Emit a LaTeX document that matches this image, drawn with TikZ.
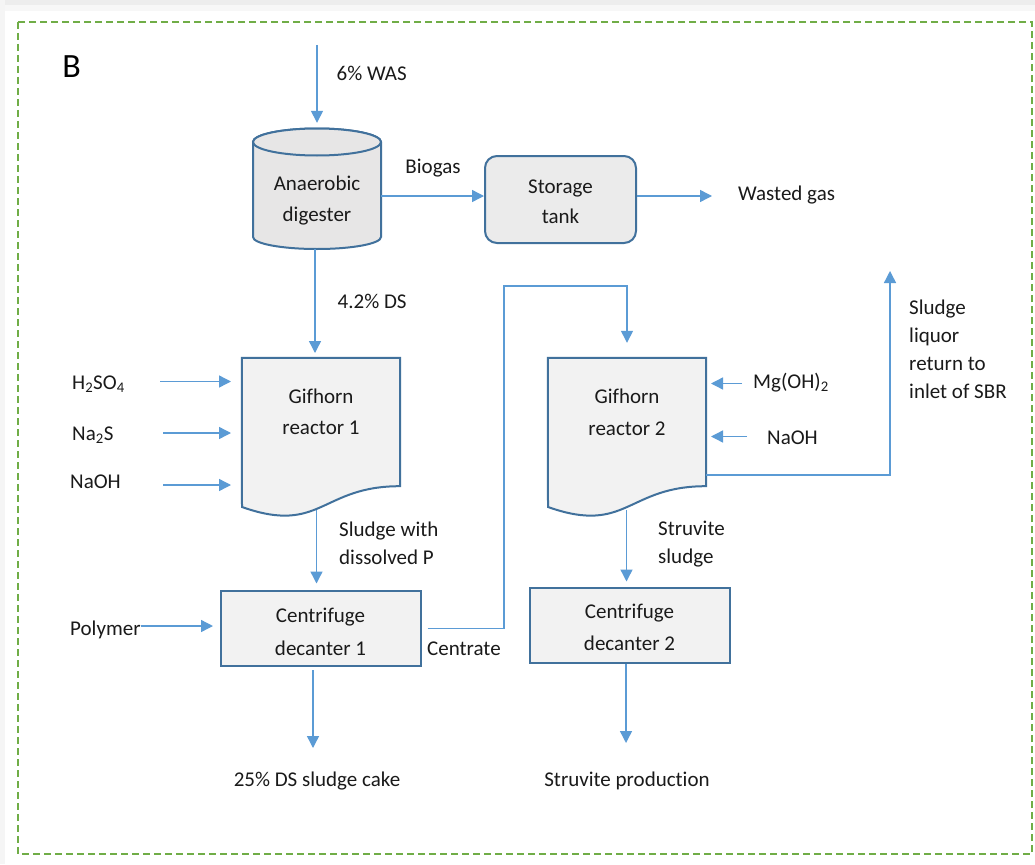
\documentclass[tikz,border=0pt]{standalone}
\usepackage{fontspec}
\setmainfont{Carlito}[Ligatures=NoCommon]
\usetikzlibrary{arrows.meta}
\definecolor{flowblue}{HTML}{5B9BD5}
\definecolor{edgeblue}{HTML}{41719C}
\definecolor{framegreen}{HTML}{70AD47}
\definecolor{ink}{HTML}{1A1A1A}
\definecolor{boxfill}{HTML}{F2F2F2}
\definecolor{tankfill}{HTML}{E7E6E6}
\begin{document}
\begin{tikzpicture}[x=1pt,y=-1pt,
  flow/.style={draw=flowblue,line width=1.4pt,-{Triangle[length=12pt,width=12pt]}},
  unit/.style={draw=edgeblue,line width=2pt,fill=boxfill},
  holder/.style={draw=none,fill=none,inner sep=0pt},
  txt/.style={text=ink,font=\fontsize{21}{26}\selectfont,inner sep=0pt,anchor=base},
  ltxt/.style={txt,anchor=base west},
]
\useasboundingbox (0,0) rectangle (1035,864);
\fill[white] (0,0) rectangle (1035,864);
% faint shadow along the top and left edges
\fill[black!7] (0,0) rectangle (1035,5);
\fill[black!3] (0,5) rectangle (1035,11);
\fill[black!4] (0,0) rectangle (5,864);

% dashed panel frame
\draw[framegreen,line width=2pt,dash pattern=on 7pt off 4pt] (18,22) rectangle (1032,854);
\node[txt,font=\fontsize{34}{38}\selectfont,text=black] (panel) at (71.5,77.5) {B};

% ---------- anaerobic digester (cylinder) ----------
\node[holder,minimum width=128pt,minimum height=120pt] (dig) at (317,189) {};
\filldraw[unit,fill=tankfill] (253,142) -- (253,237)
  arc[start angle=180,end angle=0,x radius=64,y radius=12]
  -- (381,142) arc[start angle=0,end angle=-180,x radius=64,y radius=13.5] -- cycle;
\draw[unit,fill=tankfill] (317,142) ellipse[x radius=64,y radius=13.5];
\node[txt] (dig1) at (317,190) {Anaerobic};
\node[txt] (dig2) at (317,221.5) {digester};

% ---------- storage tank ----------
\node[unit,fill=tankfill!60!boxfill,rounded corners=12pt,minimum width=151pt,minimum height=87pt] (tank) at (560.5,199.5) {};
\node[txt] (tank1) at (560.5,193) {Storage};
\node[txt] (tank2) at (560.5,223) {tank};

% ---------- Gifhorn reactors (document shapes) ----------
\node[holder,minimum width=158pt,minimum height=128pt] (r1) at (321,422) {};
\filldraw[unit] (r1.north west) -- (r1.north east) -- (r1.south east)
  .. controls (321,486) and (321,535) .. (242,507) -- cycle;
\node[txt] (r1a) at (321,403) {Gifhorn};
\node[txt] (r1b) at (321,434.5) {reactor 1};

\node[holder,minimum width=158pt,minimum height=128pt] (r2) at (627,422) {};
\filldraw[unit] (r2.north west) -- (r2.north east) -- (r2.south east)
  .. controls (627,486) and (627,535) .. (548,507) -- cycle;
\node[txt] (r2a) at (627,403) {Gifhorn};
\node[txt] (r2b) at (627,435) {reactor 2};

% ---------- centrifuge decanters ----------
\node[unit,minimum width=200pt,minimum height=75pt] (d1) at (320.5,628) {};
\node[txt] (d1a) at (320.5,622) {Centrifuge};
\node[txt] (d1b) at (320.5,655) {decanter 1};

\node[unit,minimum width=200pt,minimum height=75pt] (d2) at (629.5,625) {};
\node[txt] (d2a) at (629.5,618.5) {Centrifuge};
\node[txt] (d2b) at (629.5,650) {decanter 2};

% ---------- free ends of the flows ----------
\coordinate (wasin) at (317,45);
\coordinate (gasout) at (712,196);
\coordinate (r1out) at (316.5,510);
\coordinate (r2out) at (626.5,510);
\coordinate (cakeout) at (313,748);
\coordinate (struvout) at (626,743);
\coordinate (sbr) at (890,271);
\coordinate (ctop) at (504,286);

% ---------- main flows ----------
\draw[flow,shorten >=6pt] (wasin) -- (wasin |- dig.north);
\draw[flow] (dig.east |- gasout) -- (tank.west |- gasout);
\draw[flow] (tank.east |- gasout) -- (gasout);
\draw[flow,shorten >=5pt] (315,249) -- (315,358);
\draw[flow,shorten >=6pt] (r1out) -- (r1out |- d1.north);
\draw[flow,shorten >=5pt] (r2out) -- (r2out |- d2.north);
\draw[flow] (313,670) -- (cakeout);
\draw[flow] (626,664) -- (struvout);

% centrate to reactor 2
\draw[flow,shorten >=15pt] (427.5,628.5) -- (ctop |- 0,628.5) -- (ctop) -- (ctop -| r2.north) -- (r2.north);
% sludge liquor return
\draw[flow] (r2.east |- 0,475) -- (sbr |- 0,475) -- (sbr);

% ---------- chemical dosing ----------
\node[ltxt] (h2so4) at (72,389) {H\textsubscript{2}SO\textsubscript{4}};
\node[ltxt] (na2s) at (72,440) {Na\textsubscript{2}S};
\node[ltxt] (naoh1) at (70,488.5) {NaOH};
\draw[flow] (160,381.5) -- (231,381.5);
\draw[flow] (163,433) -- (231,433);
\draw[flow] (163,485) -- (231,485);

\node[ltxt] (mgoh) at (753,388.5) {Mg(OH)\textsubscript{2}};
\node[ltxt] (naoh2) at (767,444) {NaOH};
\draw[flow] (742,383.5) -- (711,383.5);
\draw[flow] (747,436.5) -- (711,436.5);

\node[ltxt] (poly) at (70,635) {Polymer};
\draw[flow] (poly.east |- 0,626) -- (213,626);

% ---------- stream labels ----------
\node[ltxt] (l1) at (336.5,80.5) {6\% WAS};
\node[txt] (l2) at (433,173.5) {Biogas};
\node[ltxt] (l3) at (738,200) {Wasted gas};
\node[ltxt] (l4) at (337.5,308) {4.2\% DS};
\node[ltxt] (l5) at (339,536) {Sludge with};
\node[ltxt] (l6) at (339,564) {dissolved P};
\node[ltxt] (l7) at (427,655) {Centrate};
\node[ltxt] (l8) at (658,535) {Struvite};
\node[ltxt] (l9) at (658,563) {sludge};
\node[ltxt] (l10) at (909,314) {Sludge};
\node[ltxt] (l11) at (909,342) {liquor};
\node[ltxt] (l12) at (909,370) {return to};
\node[ltxt] (l13) at (909,398) {inlet of SBR};
\node[txt] (l14) at (317,786) {25\% DS sludge cake};
\node[txt] (l15) at (627,786) {Struvite production};
\end{tikzpicture}
\end{document}
